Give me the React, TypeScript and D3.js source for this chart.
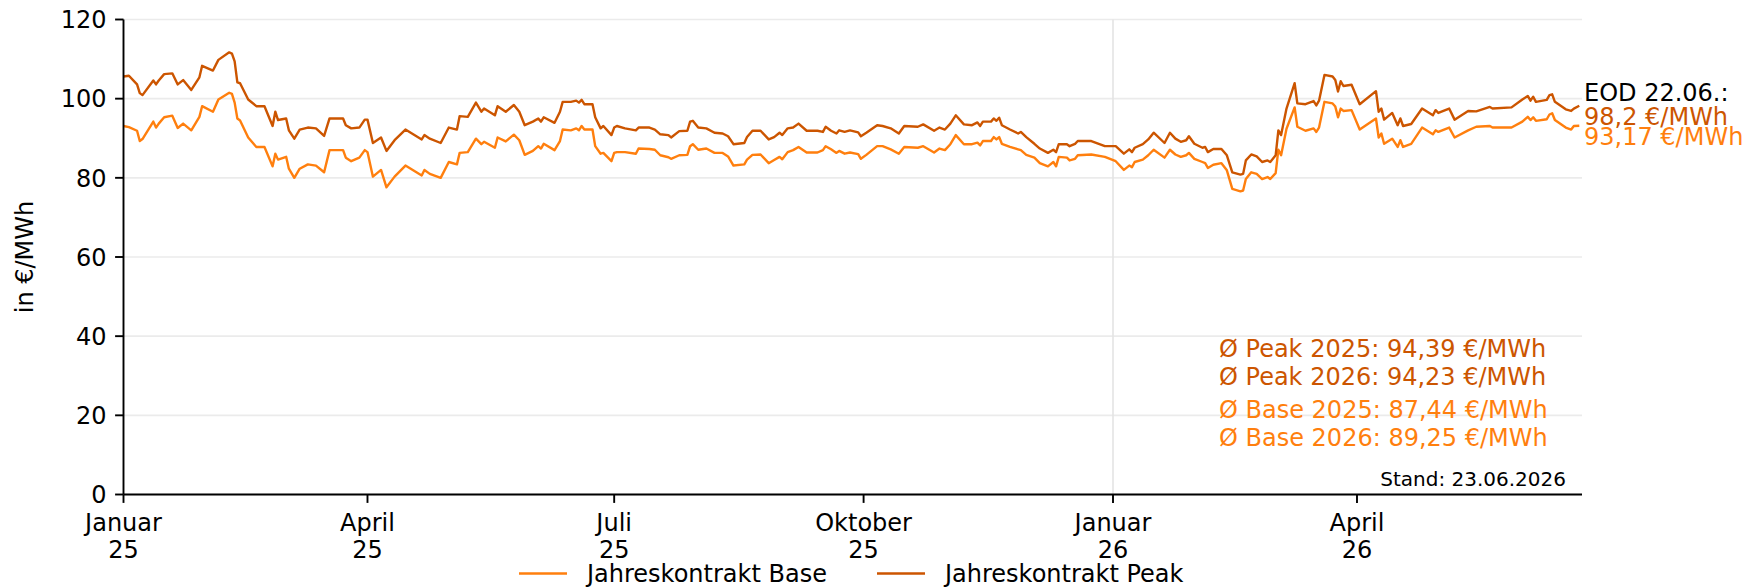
import { line, scaleLinear, scaleTime, timeParse } from "d3";

const parseDate = timeParse("%Y-%m-%d");

// trading days (EUR/MWh)
const dates = [
  "2025-01-01", "2025-01-03", "2025-01-06", "2025-01-07", "2025-01-08", "2025-01-12", "2025-01-13", "2025-01-14",
  "2025-01-16", "2025-01-19", "2025-01-21", "2025-01-23", "2025-01-26", "2025-01-29", "2025-01-30", "2025-02-03",
  "2025-02-05", "2025-02-09", "2025-02-10", "2025-02-11", "2025-02-12", "2025-02-13", "2025-02-16", "2025-02-19",
  "2025-02-22", "2025-02-25", "2025-02-26", "2025-02-27", "2025-03-02", "2025-03-03", "2025-03-05", "2025-03-07",
  "2025-03-10", "2025-03-13", "2025-03-16", "2025-03-18", "2025-03-23", "2025-03-24", "2025-03-26", "2025-03-29",
  "2025-03-31", "2025-04-01", "2025-04-03", "2025-04-06", "2025-04-08", "2025-04-11", "2025-04-15", "2025-04-21",
  "2025-04-22", "2025-04-24", "2025-04-28", "2025-05-01", "2025-05-04", "2025-05-05", "2025-05-08", "2025-05-11",
  "2025-05-13", "2025-05-14", "2025-05-18", "2025-05-19", "2025-05-22", "2025-05-25", "2025-05-27", "2025-05-29",
  "2025-06-01", "2025-06-03", "2025-06-04", "2025-06-05", "2025-06-09", "2025-06-11", "2025-06-12", "2025-06-15",
  "2025-06-17", "2025-06-18", "2025-06-19", "2025-06-20", "2025-06-23", "2025-06-24", "2025-06-26", "2025-06-27",
  "2025-06-30", "2025-07-01", "2025-07-02", "2025-07-05", "2025-07-09", "2025-07-10", "2025-07-14", "2025-07-16",
  "2025-07-18", "2025-07-21", "2025-07-22", "2025-07-25", "2025-07-28", "2025-07-29", "2025-07-30", "2025-08-01",
  "2025-08-04", "2025-08-07", "2025-08-10", "2025-08-12", "2025-08-14", "2025-08-18", "2025-08-19", "2025-08-21",
  "2025-08-24", "2025-08-27", "2025-08-29", "2025-08-31", "2025-09-01", "2025-09-03", "2025-09-05", "2025-09-07",
  "2025-09-10", "2025-09-14", "2025-09-16", "2025-09-17", "2025-09-19", "2025-09-21", "2025-09-22", "2025-09-24",
  "2025-09-26", "2025-09-29", "2025-09-30", "2025-10-02", "2025-10-06", "2025-10-08", "2025-10-11", "2025-10-14",
  "2025-10-16", "2025-10-21", "2025-10-23", "2025-10-27", "2025-10-29", "2025-10-31", "2025-11-02", "2025-11-04",
  "2025-11-07", "2025-11-10", "2025-11-12", "2025-11-13", "2025-11-14", "2025-11-17", "2025-11-18", "2025-11-19",
  "2025-11-20", "2025-11-21", "2025-11-24", "2025-11-27", "2025-11-28", "2025-11-30", "2025-12-03", "2025-12-05",
  "2025-12-08", "2025-12-10", "2025-12-11", "2025-12-12", "2025-12-15", "2025-12-16", "2025-12-18", "2025-12-19",
  "2025-12-24", "2025-12-29", "2026-01-02", "2026-01-05", "2026-01-07", "2026-01-08", "2026-01-09", "2026-01-12",
  "2026-01-14", "2026-01-16", "2026-01-20", "2026-01-22", "2026-01-24", "2026-01-26", "2026-01-28", "2026-01-29",
  "2026-01-31", "2026-02-03", "2026-02-04", "2026-02-05", "2026-02-07", "2026-02-10", "2026-02-12", "2026-02-14",
  "2026-02-17", "2026-02-18", "2026-02-19", "2026-02-21", "2026-02-23", "2026-02-25", "2026-02-27", "2026-02-28",
  "2026-03-02", "2026-03-03", "2026-03-04", "2026-03-06", "2026-03-09", "2026-03-10", "2026-03-13", "2026-03-16",
  "2026-03-17", "2026-03-18", "2026-03-20", "2026-03-23", "2026-03-24", "2026-03-25", "2026-03-26", "2026-03-27",
  "2026-03-30", "2026-04-02", "2026-04-08", "2026-04-09", "2026-04-10", "2026-04-11", "2026-04-14", "2026-04-16",
  "2026-04-17", "2026-04-18", "2026-04-21", "2026-04-25", "2026-04-29", "2026-04-30", "2026-05-01", "2026-05-05",
  "2026-05-07", "2026-05-12", "2026-05-15", "2026-05-20", "2026-05-21", "2026-05-28", "2026-06-01", "2026-06-03",
  "2026-06-04", "2026-06-05", "2026-06-06", "2026-06-10", "2026-06-11", "2026-06-12", "2026-06-13", "2026-06-17",
  "2026-06-19", "2026-06-20", "2026-06-22",
];

const basePrices = [
  93.1, 92.8, 91.9, 89.3, 89.8, 94.2, 92.7, 93.7, 95.3, 95.7, 92.6, 93.7, 92.0, 95.4, 98.1, 96.7,
  99.8, 101.5, 101.2, 99.0, 95.0, 94.5, 90.2, 87.8, 87.8, 82.9, 86.1, 84.6, 85.3, 82.3, 80.0, 82.3,
  83.4, 83.1, 81.4, 87.0, 87.0, 85.1, 84.2, 85.1, 87.0, 86.5, 80.3, 82.0, 77.6, 80.3, 83.1, 80.6,
  82.0, 81.0, 80.0, 84.0, 83.4, 86.3, 86.5, 89.9, 88.5, 89.1, 87.6, 90.2, 89.2, 90.9, 89.5, 85.8,
  86.8, 88.0, 87.4, 88.6, 87.0, 89.3, 92.2, 92.0, 92.5, 92.0, 93.1, 92.2, 92.2, 88.0, 86.1, 86.3,
  84.2, 86.3, 86.5, 86.5, 86.1, 87.4, 87.3, 87.1, 85.7, 85.2, 84.8, 85.7, 85.8, 88.0, 88.5, 87.1,
  87.4, 86.3, 86.3, 85.4, 83.1, 83.4, 84.6, 85.8, 85.9, 83.7, 84.5, 85.3, 84.7, 86.5, 87.0, 87.8,
  86.4, 86.4, 87.0, 88.0, 87.2, 86.3, 86.8, 86.1, 86.4, 86.0, 84.8, 85.8, 88.0, 88.0, 87.2, 86.1,
  87.8, 87.6, 88.0, 86.4, 87.4, 87.0, 88.5, 90.8, 88.5, 88.5, 88.9, 88.2, 89.3, 89.3, 90.3, 89.7,
  90.3, 88.6, 87.8, 87.2, 87.0, 85.8, 85.1, 83.7, 82.9, 84.0, 82.9, 85.3, 85.1, 84.4, 84.8, 85.7,
  85.9, 85.3, 84.2, 82.0, 83.1, 82.7, 84.0, 84.6, 85.7, 87.1, 85.1, 87.1, 85.9, 85.3, 85.7, 86.3,
  84.8, 84.0, 83.7, 82.5, 83.3, 83.7, 81.9, 77.2, 76.6, 76.8, 79.7, 81.4, 81.0, 79.7, 80.2, 79.7,
  81.2, 87.1, 85.7, 92.4, 97.8, 92.9, 91.9, 92.5, 91.6, 92.7, 99.2, 98.8, 98.0, 95.3, 97.5, 96.9,
  97.1, 92.2, 95.0, 90.2, 91.2, 88.6, 89.9, 87.8, 89.5, 87.8, 88.6, 92.7, 91.0, 92.0, 91.6, 92.7,
  90.2, 92.0, 92.9, 93.1, 92.7, 92.7, 94.2, 95.4, 94.6, 95.3, 94.4, 94.8, 96.0, 96.3, 94.6, 92.7,
  92.2, 93.1, 93.17,
];

const peakPrices = [
  105.6, 105.8, 103.6, 101.4, 100.9, 104.6, 103.6, 104.6, 106.2, 106.4, 103.6, 104.7, 102.2, 105.4, 108.3, 107.1,
  109.8, 111.7, 111.4, 109.4, 104.1, 103.9, 99.8, 98.1, 98.1, 93.1, 96.7, 94.6, 95.0, 92.0, 89.9, 92.2,
  92.7, 92.5, 90.6, 95.0, 95.0, 93.3, 92.5, 92.7, 94.7, 94.7, 88.8, 90.2, 86.8, 89.5, 92.2, 89.7,
  90.8, 89.9, 88.8, 92.7, 92.2, 95.6, 95.4, 99.0, 96.7, 97.5, 95.8, 98.1, 96.7, 98.4, 96.7, 93.3,
  94.2, 95.0, 94.2, 95.3, 93.9, 96.7, 99.2, 99.2, 99.5, 99.0, 99.7, 98.6, 98.6, 95.3, 92.5, 93.1,
  90.8, 92.7, 93.1, 92.5, 92.0, 92.7, 92.7, 92.2, 91.0, 90.8, 90.2, 91.8, 91.9, 94.2, 94.4, 92.7,
  92.5, 91.4, 91.2, 90.5, 88.5, 88.8, 90.3, 91.9, 91.9, 89.7, 90.3, 91.4, 90.8, 92.5, 92.7, 93.7,
  91.9, 91.9, 91.6, 92.9, 91.9, 91.2, 92.0, 91.6, 92.0, 91.5, 90.5, 91.4, 93.3, 93.1, 92.5, 91.2,
  93.1, 92.9, 93.5, 91.9, 92.7, 92.2, 93.7, 95.8, 93.5, 93.3, 94.0, 93.1, 94.2, 94.2, 95.0, 94.4,
  95.2, 93.3, 92.2, 91.2, 91.6, 90.3, 88.6, 87.4, 86.3, 87.1, 86.5, 88.5, 88.5, 88.0, 88.6, 89.3,
  89.3, 88.0, 88.0, 86.1, 87.2, 86.5, 87.6, 88.5, 89.7, 91.4, 88.8, 91.4, 89.9, 89.1, 89.5, 90.5,
  88.6, 87.6, 87.8, 86.5, 87.3, 87.3, 85.7, 81.4, 80.8, 81.0, 84.4, 85.9, 85.4, 84.0, 84.4, 84.0,
  85.7, 92.0, 90.8, 97.5, 103.9, 98.8, 98.6, 99.4, 98.3, 99.5, 106.0, 105.6, 104.7, 101.8, 104.4, 103.2,
  103.5, 98.6, 101.9, 96.7, 97.5, 94.7, 96.4, 93.3, 95.0, 93.1, 93.6, 97.5, 95.8, 97.1, 96.4, 97.5,
  94.7, 96.9, 96.8, 97.9, 97.5, 97.8, 99.8, 100.7, 99.5, 100.5, 99.2, 99.7, 100.9, 101.1, 99.2, 97.3,
  96.9, 97.5, 98.2,
];

const yTicks = [0, 20, 40, 60, 80, 100, 120];
const xTickDates = ["2025-01-01", "2025-04-01", "2025-07-01", "2025-10-01", "2026-01-01", "2026-04-01"];
const xTickMonths = ["Januar", "April", "Juli", "Oktober", "Januar", "April"];
const xTickYears = ["25", "25", "25", "25", "26", "26"];
const yearGrid = ["2026-01-01"];

const seriesNames = ["Jahreskontrakt Base", "Jahreskontrakt Peak"];
const peakAverages = ["Ø Peak 2025: 94,39 €/MWh", "Ø Peak 2026: 94,23 €/MWh"];
const baseAverages = ["Ø Base 2025: 87,44 €/MWh", "Ø Base 2026: 89,25 €/MWh"];
const eodLabels = ["EOD 22.06.:", "98,2 €/MWh", "93,17 €/MWh"];
const standLabel = "Stand: 23.06.2026";

const width = 1744;
const height = 587;
const left = 123.5;
const right = 1582;
const top = 19.5;
const bottom = 494.5;

const baseColor = "#ff7f0e";
const peakColor = "#cc5500";
const font = "DejaVu Sans";

function App() {
  const parsed = dates.map((d) => parseDate(d) as Date);

  const x = scaleTime()
    .domain([parseDate("2025-01-01") as Date, parseDate("2026-06-23") as Date])
    .range([left, right]);
  const y = scaleLinear().domain([0, 120]).range([bottom, top]);

  const path = (values: number[]) =>
    line<number>()
      .x((_, i) => x(parsed[i]))
      .y((v) => y(v))(values) ?? "";

  return (
    <svg
      width={width}
      height={height}
      style={{ position: "absolute", left: 0, top: 0, background: "#fff" }}
      fontFamily={font}
    >
      {/* grid */}
      {yTicks.map((t) => (
        <line key={"g" + t} x1={left} x2={right} y1={y(t)} y2={y(t)} stroke="#ebebeb" strokeWidth={1.6} />
      ))}
      {yearGrid.map((d) => (
        <line
          key={d}
          x1={x(parseDate(d) as Date)}
          x2={x(parseDate(d) as Date)}
          y1={top}
          y2={bottom}
          stroke="#e4e4e4"
          strokeWidth={1.6}
        />
      ))}

      {/* series */}
      <path d={path(basePrices)} fill="none" stroke={baseColor} strokeWidth={2.4} strokeLinejoin="round" />
      <path d={path(peakPrices)} fill="none" stroke={peakColor} strokeWidth={2.4} strokeLinejoin="round" />

      {/* y axis */}
      <line x1={left} x2={left} y1={top} y2={bottom} stroke="#000" strokeWidth={1.9} />
      {yTicks.map((t) => (
        <g key={"y" + t}>
          <line x1={left - 8.4} x2={left} y1={y(t)} y2={y(t)} stroke="#000" strokeWidth={1.9} />
          <text x={left - 17} y={y(t) + 8.7} fontSize={24} textAnchor="end">
            {t}
          </text>
        </g>
      ))}
      <text x={33} y={(top + bottom) / 2} fontSize={24} textAnchor="middle" transform={`rotate(-90, 33, ${(top + bottom) / 2})`}>
        in €/MWh
      </text>

      {/* x axis */}
      <line x1={left} x2={right} y1={bottom} y2={bottom} stroke="#000" strokeWidth={1.9} />
      {xTickDates.map((d, i) => {
        const px = x(parseDate(d) as Date);
        return (
          <g key={"x" + i}>
            <line x1={px} x2={px} y1={bottom} y2={bottom + 8.4} stroke="#000" strokeWidth={1.9} />
            <text x={px} y={530.5} fontSize={24} textAnchor="middle">
              {xTickMonths[i]}
            </text>
            <text x={px} y={557.5} fontSize={24} textAnchor="middle">
              {xTickYears[i]}
            </text>
          </g>
        );
      })}

      {/* end of day labels */}
      <text x={1584} y={100.5} fontSize={24} fill="#000">
        {eodLabels[0]}
      </text>
      <text x={1584} y={124.5} fontSize={24} fill={peakColor}>
        {eodLabels[1]}
      </text>
      <text x={1584} y={144.5} fontSize={24} fill={baseColor}>
        {eodLabels[2]}
      </text>

      {/* averages */}
      {peakAverages.map((s, i) => (
        <text key={s} x={1219} y={357 + i * 27.5} fontSize={24} fill={peakColor}>
          {s}
        </text>
      ))}
      {baseAverages.map((s, i) => (
        <text key={s} x={1219} y={418 + i * 27.5} fontSize={24} fill={baseColor}>
          {s}
        </text>
      ))}
      <text x={1566} y={486} fontSize={20} textAnchor="end">
        {standLabel}
      </text>

      {/* legend */}
      {seriesNames.map((name, i) => {
        const lx = 519 + i * 358;
        return (
          <g key={name}>
            <line x1={lx} x2={lx + 48} y1={573.5} y2={573.5} stroke={i === 0 ? baseColor : peakColor} strokeWidth={2.4} />
            <text x={lx + 68} y={581.5} fontSize={24}>
              {name}
            </text>
          </g>
        );
      })}
    </svg>
  );
}

export default App;
